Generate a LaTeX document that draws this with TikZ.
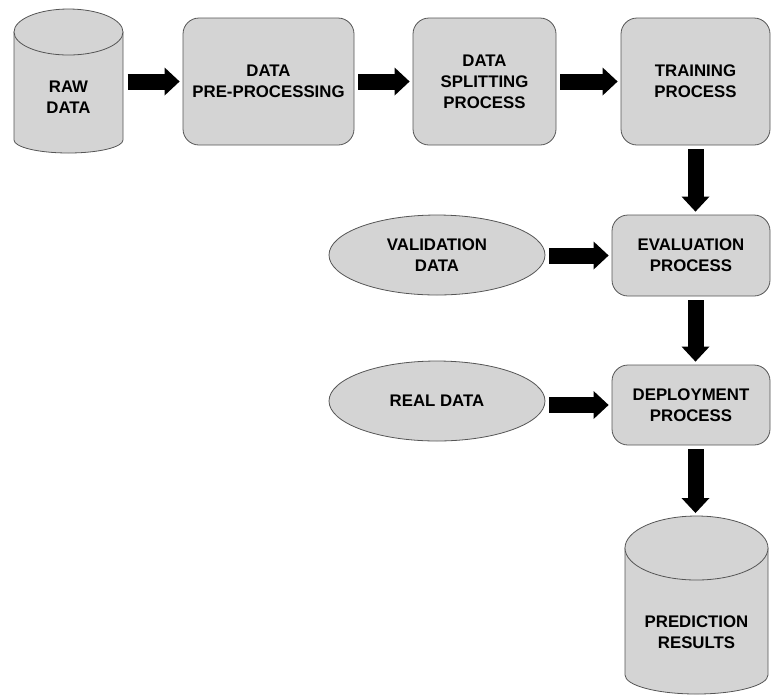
\documentclass[tikz,border=0pt]{standalone}
\usepackage{fontspec}
\setmainfont{Liberation Sans}
\usetikzlibrary{arrows.meta,shapes.geometric}

\definecolor{boxgray}{RGB}{212,212,212}
\definecolor{edgegray}{RGB}{85,85,85}
\newcommand{\boxfont}{\fontsize{12.6}{15.75}\selectfont\bfseries}

\tikzset{every picture/.style={line width=0.75pt}}
\tikzset{
  procbox/.style={draw=edgegray, fill=boxgray, rounded corners=12pt, line width=0.6pt, align=center, font=\boxfont, inner sep=0pt},
  dataoval/.style={ellipse, draw=edgegray, fill=boxgray, line width=0.6pt, align=center, font=\boxfont, inner sep=0pt, minimum width=162pt, minimum height=60pt},
  canshape/.style={draw=edgegray, fill=boxgray, line width=0.6pt},
  cantext/.style={align=center, font=\boxfont, inner sep=0pt},
  flowarrow/.style={line width=12pt, -{Triangle[length=11.25pt,width=21pt,line width=0pt]}, shorten <=3pt, shorten >=2.25pt}
}

\begin{document}
\begin{tikzpicture}[x=0.75pt,y=0.75pt,yscale=-1,xscale=1]
\useasboundingbox (0,0) rectangle (771,694);

%Shape: Can [raw data]
\draw[canshape] (14,32) -- (14,140) arc[start angle=180,end angle=0,x radius=54.5,y radius=13] -- (123,32) -- cycle;
\draw[canshape] (68.5,32) ellipse [x radius=54.5, y radius=23];
%Shape: Can [prediction results]
\draw[canshape] (625,548) -- (625,675) arc[start angle=180,end angle=0,x radius=71.5,y radius=19] -- (768,548) -- cycle;
\draw[canshape] (696.5,548) ellipse [x radius=71.5, y radius=32];
\coordinate (predtop) at (695.5,516);

% Text Node
\node[cantext, minimum width=81.75pt, minimum height=63.75pt] (raw) at (68.5,97.5) {RAW\\DATA};
\node[cantext, minimum width=107.25pt, minimum height=78.75pt] (pred) at (696.5,632) {PREDICTION\\RESULTS};

%Shape: Rounded Rect
\node[procbox, minimum width=128.25pt, minimum height=95.25pt] (prep) at (268.5,81.5) {DATA\\PRE-PROCESSING};
\node[procbox, minimum width=107.25pt, minimum height=95.25pt] (split) at (484.5,81.5) {DATA\\SPLITTING\\PROCESS};
\node[procbox, minimum width=111.75pt, minimum height=95.25pt] (train) at (695.5,81.5) {TRAINING\\PROCESS};
\node[procbox, minimum width=118.5pt, minimum height=60.75pt] (eval) at (691,255.5) {EVALUATION\\PROCESS};
\node[procbox, minimum width=118.5pt, minimum height=60pt] (deploy) at (691,405) {DEPLOYMENT\\PROCESS};

%Shape: Ellipse
\node[dataoval] (valid) at (437,255) {VALIDATION\\DATA};
\node[dataoval] (real) at (437,401) {REAL DATA};

%Straight Lines
\draw[flowarrow] (raw.east |- prep.west) -- (prep.west);
\draw[flowarrow] (prep) -- (split);
\draw[flowarrow] (split) -- (train);
\draw[flowarrow] (train.south) -- (train.south |- eval.north);
\draw[flowarrow] (eval.west -| valid.east) -- (eval.west);
\draw[flowarrow] (train.south |- eval.south) -- (train.south |- deploy.north);
\draw[flowarrow] (deploy.west -| real.east) -- (deploy.west);
\draw[flowarrow] (train.south |- deploy.south) -- (predtop);

\end{tikzpicture}
\end{document}
